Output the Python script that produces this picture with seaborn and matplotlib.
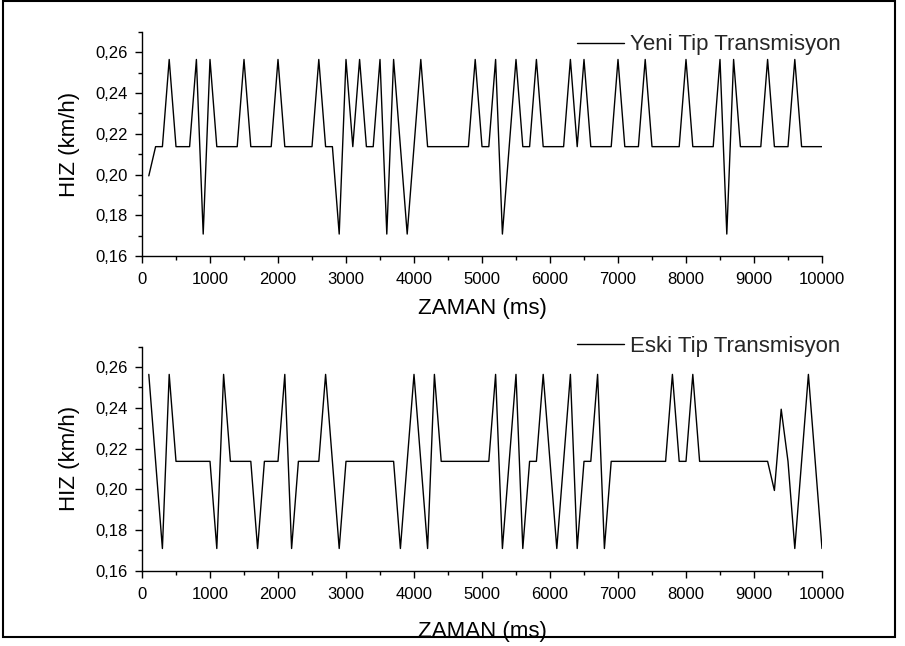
import matplotlib
matplotlib.use("Agg")
import matplotlib.pyplot as plt
import seaborn as sns
import numpy as np
import pandas as pd
from matplotlib.ticker import MultipleLocator, FuncFormatter
from matplotlib.patches import Rectangle

# ---------------- data ----------------
time_ms = np.arange(100, 10001, 100)

yeni_tip = [
    0.1994, 0.2137, 0.2137, 0.2564, 0.2137, 0.2137, 0.2137, 0.2564, 0.1709, 0.2564,   # 100-1000
    0.2137, 0.2137, 0.2137, 0.2137, 0.2564, 0.2137, 0.2137, 0.2137, 0.2137, 0.2564,   # 1100-2000
    0.2137, 0.2137, 0.2137, 0.2137, 0.2137, 0.2564, 0.2137, 0.2137, 0.1709, 0.2564,   # 2100-3000
    0.2137, 0.2564, 0.2137, 0.2137, 0.2564, 0.1709, 0.2564, 0.2137, 0.1709, 0.2137,   # 3100-4000
    0.2564, 0.2137, 0.2137, 0.2137, 0.2137, 0.2137, 0.2137, 0.2137, 0.2564, 0.2137,   # 4100-5000
    0.2137, 0.2564, 0.1709, 0.2137, 0.2564, 0.2137, 0.2137, 0.2564, 0.2137, 0.2137,   # 5100-6000
    0.2137, 0.2137, 0.2564, 0.2137, 0.2564, 0.2137, 0.2137, 0.2137, 0.2137, 0.2564,   # 6100-7000
    0.2137, 0.2137, 0.2137, 0.2564, 0.2137, 0.2137, 0.2137, 0.2137, 0.2137, 0.2564,   # 7100-8000
    0.2137, 0.2137, 0.2137, 0.2137, 0.2564, 0.1709, 0.2564, 0.2137, 0.2137, 0.2137,   # 8100-9000
    0.2137, 0.2564, 0.2137, 0.2137, 0.2137, 0.2564, 0.2137, 0.2137, 0.2137, 0.2137,   # 9100-10000
]

eski_tip = [
    0.2564, 0.2137, 0.1709, 0.2564, 0.2137, 0.2137, 0.2137, 0.2137, 0.2137, 0.2137,   # 100-1000
    0.1709, 0.2564, 0.2137, 0.2137, 0.2137, 0.2137, 0.1709, 0.2137, 0.2137, 0.2137,   # 1100-2000
    0.2564, 0.1709, 0.2137, 0.2137, 0.2137, 0.2137, 0.2564, 0.2137, 0.1709, 0.2137,   # 2100-3000
    0.2137, 0.2137, 0.2137, 0.2137, 0.2137, 0.2137, 0.2137, 0.1709, 0.2137, 0.2564,   # 3100-4000
    0.2137, 0.1709, 0.2564, 0.2137, 0.2137, 0.2137, 0.2137, 0.2137, 0.2137, 0.2137,   # 4100-5000
    0.2137, 0.2564, 0.1709, 0.2137, 0.2564, 0.1709, 0.2137, 0.2137, 0.2564, 0.2137,   # 5100-6000
    0.1709, 0.2137, 0.2564, 0.1709, 0.2137, 0.2137, 0.2564, 0.1709, 0.2137, 0.2137,   # 6100-7000
    0.2137, 0.2137, 0.2137, 0.2137, 0.2137, 0.2137, 0.2137, 0.2564, 0.2137, 0.2137,   # 7100-8000
    0.2564, 0.2137, 0.2137, 0.2137, 0.2137, 0.2137, 0.2137, 0.2137, 0.2137, 0.2137,   # 8100-9000
    0.2137, 0.2137, 0.1994, 0.2393, 0.2137, 0.1709, 0.2137, 0.2564, 0.2137, 0.1709,   # 9100-10000
]

assert len(yeni_tip) == len(time_ms) == len(eski_tip)

series_labels = ["Yeni Tip Transmisyon", "Eski Tip Transmisyon"]
x_label = "ZAMAN (ms)"
y_label = "HIZ (km/h)"

# ---------------- style ----------------
sns.set_style("ticks")
plt.rcParams["font.family"] = ["Liberation Sans", "DejaVu Sans"]

W, H = 905, 646
fig = plt.figure(figsize=(W / 100, H / 100), dpi=100)
fig.patch.set_facecolor("white")

ax1 = fig.add_axes([142 / W, 1 - 256.3 / H, 680 / W, 224.6 / H])
ax2 = fig.add_axes([142 / W, 1 - 570.7 / H, 680 / W, 224.0 / H])

comma_fmt = FuncFormatter(lambda v, p: f"{v:.2f}".replace(".", ","))

setups = [
    (ax1, yeni_tip, series_labels[0], (577 - 142) / 680, 0.941, -0.186),
    (ax2, eski_tip, series_labels[1], (577 - 142) / 680, 1.003, -0.225),
]

for ax, vals, lab, lx, ly, xly in setups:
    df = pd.DataFrame({"t": time_ms, "v": vals})
    sns.lineplot(data=df, x="t", y="v", ax=ax, color="black", lw=1.0, label=lab)
    ax.set_xlim(0, 10000)
    ax.set_ylim(0.16, 0.27)
    ax.xaxis.set_major_locator(MultipleLocator(1000))
    ax.xaxis.set_minor_locator(MultipleLocator(500))
    ax.yaxis.set_major_locator(MultipleLocator(0.02))
    ax.yaxis.set_minor_locator(MultipleLocator(0.01))
    ax.yaxis.set_major_formatter(comma_fmt)
    for s in ["top", "right"]:
        ax.spines[s].set_visible(False)
    for s in ["left", "bottom"]:
        ax.spines[s].set_color("black")
        ax.spines[s].set_linewidth(1.0)
    ax.tick_params(which="major", direction="out", length=5, width=1.0,
                   colors="black", labelsize=12)
    ax.tick_params(which="minor", direction="out", length=2.8, width=1.0, colors="black")
    ax.tick_params(axis="x", which="major", pad=6.5)
    ax.tick_params(axis="y", which="major", pad=5.5)
    ax.set_xlabel(x_label, fontsize=16, color="black")
    ax.set_ylabel(y_label, fontsize=16, color="black")
    ax.yaxis.set_label_coords(-0.091, 0.5)
    ax.xaxis.set_label_coords(0.5, xly)
    ax.legend(loc="center left", bbox_to_anchor=(lx, ly), frameon=False, fontsize=16,
              handlelength=2.1, handletextpad=0.3, borderpad=0, borderaxespad=0)
    ax.set_facecolor("white")
    ax.grid(False)

fig.add_artist(Rectangle((3 / W, 1 - 637 / H), (895 - 3) / W, (637 - 1) / H,
                         transform=fig.transFigure, fill=False, ec="black", lw=1.5))

fig.savefig("out.png", dpi=100)
